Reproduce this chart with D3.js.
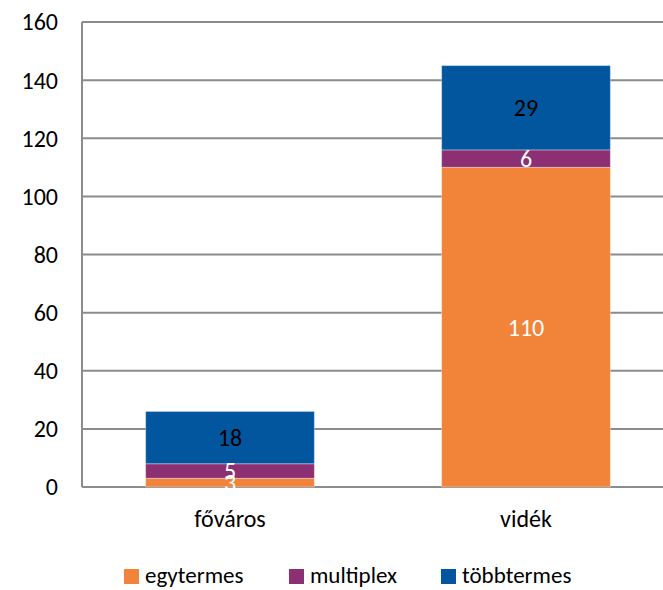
<!DOCTYPE html>
<html><head><meta charset="utf-8">
<script src="https://cdn.jsdelivr.net/npm/d3@7"></script>
<style>body{margin:0;background:#fff;} svg{display:block;font-family:Carlito,Lato,"Open Sans",sans-serif;}</style>
</head><body>
<svg id="c" width="663" height="590"></svg>
<script>
const categories = ["főváros", "vidék"];
const seriesNames = ["egytermes", "multiplex", "többtermes"];
const egytermes = [3, 110];
const multiplex = [5, 6];
const tobbtermes = [18, 29];
const yTicks = [0, 20, 40, 60, 80, 100, 120, 140, 160];

const colors = ["#F2843A", "#8C2F73", "#01569E"];
const labelColors = ["#fff", "#fff", "#000"];
const seriesValues = [egytermes, multiplex, tobbtermes];

const FS = 24;
const svg = d3.select("#c");
const pLeft = 82, pRight = 674, pTop = 22, pBottom = 487;
const x = d3.scaleBand().domain(categories).range([pLeft, pRight]).paddingInner(0.43).paddingOuter(0.215);
const y = d3.scaleLinear().domain([0, 160]).range([pBottom, pTop]);

// gridlines
svg.append("g").selectAll("line").data(yTicks).join("line")
  .attr("x1", pLeft).attr("x2", 663)
  .attr("y1", d => y(d)).attr("y2", d => y(d))
  .attr("stroke", "#8c8c8c").attr("stroke-width", 2);
svg.append("line").attr("x1", pLeft).attr("x2", pLeft).attr("y1", pTop).attr("y2", pBottom)
  .attr("stroke", "#8c8c8c").attr("stroke-width", 2);

// y tick labels
svg.append("g").selectAll("text").data(yTicks).join("text")
  .attr("x", 58).attr("y", d => y(d)).attr("dy", "0.35em")
  .attr("text-anchor", "end").attr("font-size", FS).attr("fill", "#000")
  .text(d => d);

// stacked bars
const rows = categories.map((c, i) => {
  const r = {cat: c};
  seriesNames.forEach((s, k) => r[s] = seriesValues[k][i]);
  return r;
});
const stack = d3.stack().keys(seriesNames)(rows);
stack.forEach((layer, k) => {
  svg.append("g").selectAll("rect").data(layer).join("rect")
    .attr("x", d => x(d.data.cat)).attr("width", x.bandwidth())
    .attr("y", d => y(d[1])).attr("height", d => y(d[0]) - y(d[1]))
    .attr("fill", colors[k]).attr("stroke", "rgba(255,255,255,0.35)").attr("stroke-width", 1);
});
stack.forEach((layer, k) => {
  svg.append("g").selectAll("text").data(layer).join("text")
    .attr("x", d => x(d.data.cat) + x.bandwidth() / 2)
    .attr("y", d => (y(d[0]) + y(d[1])) / 2).attr("dy", "0.35em")
    .attr("text-anchor", "middle").attr("font-size", FS)
    .attr("fill", labelColors[k])
    .text(d => d[1] - d[0]);
});

// x labels
svg.append("g").selectAll("text").data(categories).join("text")
  .attr("x", d => x(d) + x.bandwidth() / 2).attr("y", 527)
  .attr("text-anchor", "middle").attr("font-size", FS).attr("fill", "#000")
  .text(d => d);

// legend
const legX = [124, 289, 441];
const lg = svg.append("g").selectAll("g").data(seriesNames).join("g")
  .attr("transform", (d, i) => `translate(${legX[i]},569)`);
lg.append("rect").attr("width", 15).attr("height", 15).attr("fill", (d, i) => colors[i]);
lg.append("text").attr("x", 21).attr("y", 14)
  .attr("font-size", 23).attr("fill", "#000").text(d => d);
</script>
</body></html>
